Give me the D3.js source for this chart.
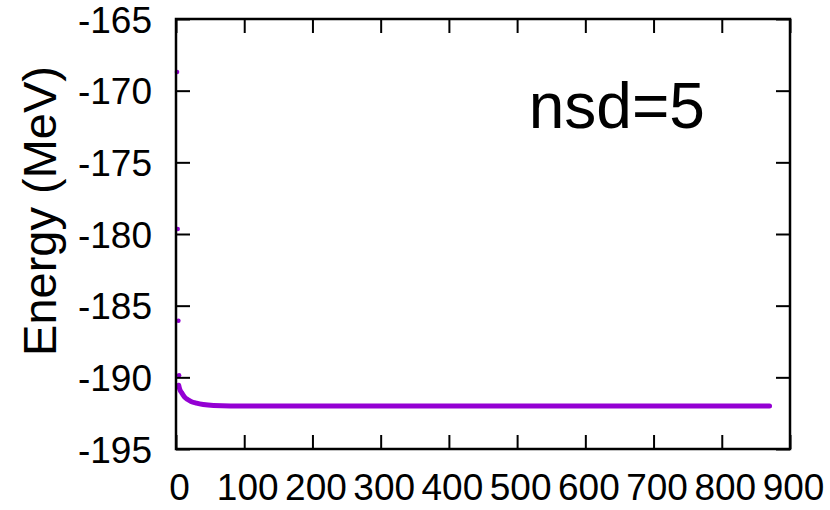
<!DOCTYPE html>
<html>
<head>
<meta charset="utf-8">
<script src="https://cdn.jsdelivr.net/npm/d3@7"></script>
<style>
  body { margin: 0; background: #fff; }
  svg text { font-family: "Liberation Sans", Arial, Helvetica, sans-serif; fill: #000; }
</style>
</head>
<body>
<div id="chart"></div>
<script>
// iteration number and energy (MeV)
const iterations = [0, 1, 2, 3, 4, 5, 6, 8, 10, 13, 17, 22, 30, 40, 55, 80, 200, 400, 600, 870];
const energies = [-168.7, -179.65, -186.05, -189.85, -190.55, -190.75, -190.9, -191.05, -191.2, -191.4,
                  -191.55, -191.68, -191.8, -191.9, -191.97, -192.0, -192.0, -192.0, -192.0, -192.0];
const xTicks = [0, 100, 200, 300, 400, 500, 600, 700, 800, 900];
const yTicks = [-165, -170, -175, -180, -185, -190, -195];
const label = 'nsd=5';

const W = 830, H = 510;
const margin = { top: 19, right: 40, bottom: 61, left: 176 };
const width = W - margin.left - margin.right;
const height = H - margin.top - margin.bottom;
const PURPLE = '#9400d3';

const svg = d3.select('#chart').append('svg')
  .attr('width', W)
  .attr('height', H);

const g = svg.append('g').attr('transform', `translate(${margin.left},${margin.top})`);

const x = d3.scaleLinear().domain([0, 900]).range([0, width]);
const y = d3.scaleLinear().domain([-195, -165]).range([height, 0]);

const data = iterations.map((it, i) => ({ it, e: energies[i] }));

// converged part drawn as thick dense band, early iterations as dots
const line = d3.line()
  .x(d => x(d.it))
  .y(d => y(d.e))
  .curve(d3.curveMonotoneX);

g.append('path')
  .datum(data.filter(d => d.it >= 4))
  .attr('fill', 'none')
  .attr('stroke', PURPLE)
  .attr('stroke-width', 5)
  .attr('stroke-linecap', 'round')
  .attr('stroke-linejoin', 'round')
  .attr('d', line);

g.selectAll('.pt')
  .data(data.filter(d => d.it < 4))
  .join('circle')
  .attr('class', 'pt')
  .attr('cx', d => x(d.it) + 1)
  .attr('cy', d => y(d.e))
  .attr('r', 2.3)
  .attr('fill', PURPLE);

// axes: ticks pointing inward, mirrored on top / right
const tickLen = 14;
const styleAxis = sel => {
  sel.selectAll('.domain').remove();
  sel.selectAll('.tick line').attr('stroke', '#000').attr('stroke-width', 2);
  sel.selectAll('.tick text').attr('font-size', 37);
};

g.append('g')
  .attr('transform', `translate(0,${height})`)
  .call(d3.axisBottom(x).tickValues(xTicks).tickSize(-tickLen).tickPadding(25).tickFormat(d => String(d)))
  .call(styleAxis)
  .selectAll('.tick text').attr('dx', 3);

g.append('g')
  .call(d3.axisTop(x).tickValues(xTicks).tickSize(-tickLen).tickFormat(''))
  .call(styleAxis);

g.append('g')
  .call(d3.axisLeft(y).tickValues(yTicks).tickSize(-tickLen).tickPadding(24).tickFormat(d => String(d)))
  .call(styleAxis)
  .selectAll('.tick text').attr('dy', '0.36em');

g.append('g')
  .attr('transform', `translate(${width},0)`)
  .call(d3.axisRight(y).tickValues(yTicks).tickSize(-tickLen).tickFormat(''))
  .call(styleAxis);

// frame
g.append('rect')
  .attr('x', 0).attr('y', 0)
  .attr('width', width).attr('height', height)
  .attr('fill', 'none')
  .attr('stroke', '#000')
  .attr('stroke-width', 2.5);

// axis title
svg.append('text')
  .attr('transform', `translate(56,${margin.top + 192}) rotate(-90)`)
  .attr('text-anchor', 'middle')
  .attr('font-size', 47)
  .text('Energy (MeV)');

// in-plot label
g.append('text')
  .attr('x', x(517))
  .attr('y', y(-172.6))
  .attr('font-size', 64)
  .text(label);
</script>
</body>
</html>
